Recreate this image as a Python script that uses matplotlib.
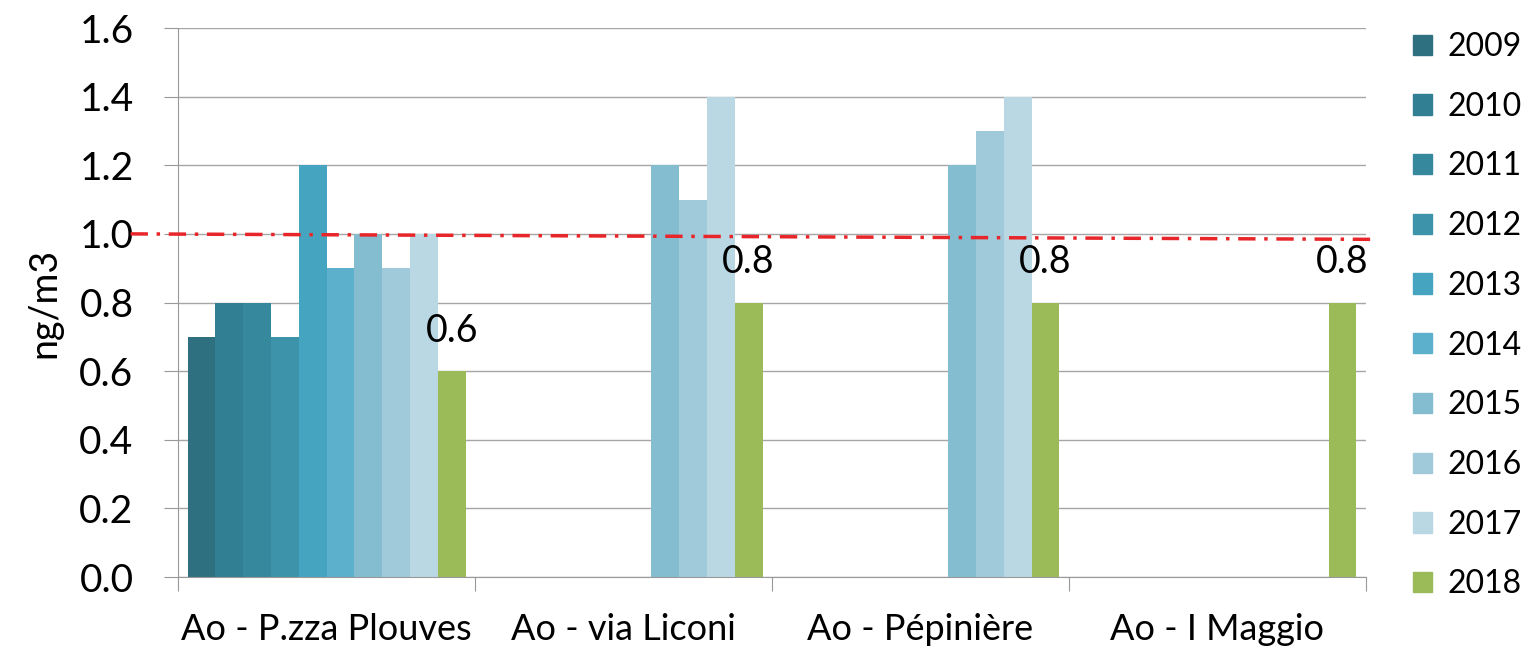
import numpy as np
import matplotlib.pyplot as plt
from matplotlib.patches import Patch

stations = ["Ao - P.zza Plouves", "Ao - via Liconi", "Ao - Pépinière", "Ao - I Maggio"]
years = ["2009", "2010", "2011", "2012", "2013", "2014", "2015", "2016", "2017", "2018"]
nan = np.nan
# one row per year, one column per station
values = [
    [0.7, nan, nan, nan],
    [0.8, nan, nan, nan],
    [0.8, nan, nan, nan],
    [0.7, nan, nan, nan],
    [1.2, nan, nan, nan],
    [0.9, nan, nan, nan],
    [1.0, 1.2, 1.2, nan],
    [0.9, 1.1, 1.3, nan],
    [1.0, 1.4, 1.4, nan],
    [0.6, 0.8, 0.8, 0.8],
]
colors = ["#2E7080", "#317F92", "#36889C", "#3D94AA", "#45A5C0",
          "#5CB0CB", "#84BDD0", "#A0C9DA", "#B9D8E4", "#9BBB59"]
limit = 1.0

plt.rcParams['font.family'] = ['Lato', 'DejaVu Sans']
fig = plt.figure(figsize=(15.31, 6.56), dpi=100)
ax = fig.add_axes([0.1163, 0.1204, 0.7759, 0.8369])

w = 0.0936
x = np.arange(len(stations)) + 0.5
for i, yr in enumerate(years):
    ax.bar(x + (i - 4.5) * w, values[i], width=w, color=colors[i], label=yr, zorder=2)

# labels on the 2018 bars
for j, v in enumerate(values[-1]):
    ax.text(x[j] + 4.5 * w, v + 0.065, "%.1f" % v, ha="center", va="bottom", fontsize=27)

# limit value line (slightly tilted in the original)
ax.plot([-0.16, 4.04], [limit, limit - 0.016], color="#E8262A", lw=2.5,
        linestyle=(0, (5, 2.5, 1, 2.5)), clip_on=False, zorder=3)

ax.set_xlim(0, 4)
ax.set_ylim(0, 1.6)
ax.set_yticks(np.arange(0, 1.61, 0.2))
ax.set_yticklabels(["%.1f" % t for t in np.arange(0, 1.61, 0.2)])
ax.set_xticks([0, 1, 2, 3, 4])
ax.set_xticklabels([])
ax.set_xticks(x, minor=True)
ax.set_xticklabels(stations, minor=True)
ax.tick_params(axis="x", which="major", length=10, color="#999999")
ax.tick_params(axis="x", which="minor", length=0, pad=26, labelsize=26)
ax.tick_params(axis="y", length=10, color="#999999", labelsize=28, pad=22)
ax.grid(axis="y", color="#A6A6A6", lw=1, zorder=0)
ax.set_axisbelow(True)
for s in ["top", "right"]:
    ax.spines[s].set_visible(False)
for s in ["left", "bottom"]:
    ax.spines[s].set_color("#999999")
ax.set_ylabel("ng/m3", fontsize=27, labelpad=12)

handles = [Patch(color=c) for c in colors]
fig.legend(handles, years, loc="upper left", bbox_to_anchor=(0.904, 0.995),
           frameon=False, fontsize=23, handlelength=0.6, handleheight=0.6,
           handletextpad=0.5, labelspacing=0.93)

fig.savefig("out.png", dpi=100)
